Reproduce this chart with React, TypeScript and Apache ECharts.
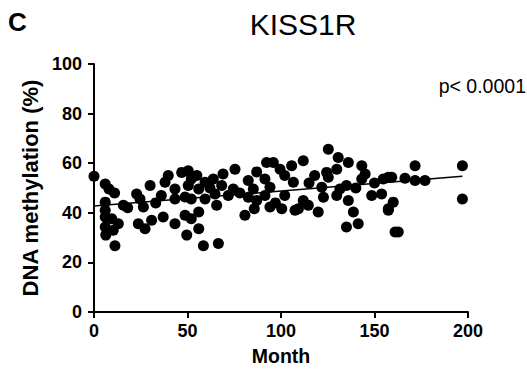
import React, { useEffect, useRef } from "react";
import * as echarts from "echarts";

const months: number[] = [
  0, 6, 8, 11, 6, 15.7, 6, 6, 9.5, 13, 6, 6.3, 11.2, 10.3,
  22.8, 24.6, 30, 26.4, 23.7, 27.3, 30.8, 37, 39.7, 38, 43.3, 46.9, 50.4, 43.3, 48.7, 43.3, 48.7, 49.6, 52, 52,
  55, 50.4, 56, 59.4, 63.8, 69, 75.4, 68.3, 74.5, 64.7, 71.8, 52, 59.4, 65.6, 56, 56, 58.5, 66.5,
  87, 92.3, 95.9, 82.5, 85.2, 91.4, 94.1, 99.5, 102, 105.7, 106.6, 82.5, 87, 91.4, 85.7, 80.7, 94.1, 100.4, 102, 107.5,
  125.3, 111.9, 130.6, 136, 143.2, 124.4, 129.8, 145, 125.3, 143.2, 154.7, 159.2, 121.8, 131.5, 135, 129.8, 148.5, 153.8,
  122.7, 136, 111.9, 114.6, 109.3, 119.9, 138.7, 157.4, 135, 141.3, 161,
  171.7, 197, 157.4, 166.3, 171.7, 177, 197, 160, 157.4, 162.7,
  18, 33, 36, 62, 78, 97, 115, 118, 140, 150
];
const methylation: number[] = [
  54.7, 51.6, 49.6, 48, 44.3, 43, 41, 38.3, 37.6, 35.6, 34.3, 31, 26.7, 33,
  47.6, 45.6, 51, 42.3, 35.6, 33.6, 37, 38.3, 55, 52.3, 49.6, 56.3, 57, 45.6, 46.4, 35.6, 39, 31, 53.6, 37.6,
  55, 51, 49.6, 52.3, 53.6, 55.6, 57.6, 51, 49.6, 47.6, 47, 45.6, 45.6, 43, 40.3, 33.6, 26.7, 27.6,
  56.5, 60.3, 60.3, 53, 49.6, 53.6, 50.3, 57.6, 55, 59, 52.3, 46.3, 45, 47, 41.6, 39, 42.3, 41.6, 47, 41,
  65.6, 61, 62.3, 60.3, 59, 56.3, 57.6, 55.6, 54.3, 53.6, 53.6, 54.3, 50.3, 49.6, 51, 47, 47, 47.6,
  46.3, 45, 45, 43, 41.6, 40.3, 40.3, 41.6, 34.3, 35.6, 32.3,
  59, 59, 54.3, 53.9, 53, 53, 45.6, 44.3, 41, 32.3,
  42, 44, 47, 50, 48, 44, 52, 55, 50, 52
];
const trendStart: [number, number] = [0, 42.7];
const trendEnd: [number, number] = [197, 54.7];
const xTicks = [0, 50, 100, 150, 200];
const yTicks = [0, 20, 40, 60, 80, 100];

const FONT = "Liberation Sans, Arial, sans-serif";

export default function App() {
  const ref = useRef<HTMLDivElement>(null);
  useEffect(() => {
    if (!ref.current) return;
    const chart = echarts.init(ref.current, undefined, { renderer: "svg" });
    const pts = months.map((m, i) => [m, methylation[i]]);
    chart.setOption({
      animation: false,
      backgroundColor: "#fff",
      title: [
        { text: "KISS1R", left: 298, top: 4, textAlign: "center",
          textStyle: { fontFamily: FONT, fontSize: 30, fontWeight: "normal", color: "#000" } },
        { text: "C", left: 3, top: 4,
          textStyle: { fontFamily: FONT, fontSize: 26, fontWeight: "bold", color: "#000" } },
        { text: "p< 0.0001", right: 1, top: 76, padding: 0,
          textStyle: { fontFamily: FONT, fontSize: 19.5, fontWeight: "normal", color: "#000" } },
      ],
      grid: { left: 94, right: 59, top: 64, bottom: 57 },
      xAxis: {
        type: "value", min: xTicks[0], max: xTicks[xTicks.length - 1], interval: 50,
        name: "Month", nameLocation: "middle", nameGap: 34,
        nameTextStyle: { fontFamily: FONT, fontSize: 19.5, fontWeight: "bold", color: "#000" },
        axisLine: { show: true, lineStyle: { color: "#000", width: 2 } },
        axisTick: { show: true, length: 6, lineStyle: { color: "#000", width: 2 } },
        axisLabel: { fontFamily: FONT, fontSize: 18, fontWeight: "bold", color: "#000", margin: 10 },
        splitLine: { show: false },
      },
      yAxis: {
        type: "value", min: yTicks[0], max: yTicks[yTicks.length - 1], interval: 20,
        name: "DNA methylation (%)", nameLocation: "middle", nameGap: 34,
        nameTextStyle: { fontFamily: FONT, fontSize: 22, fontWeight: "bold", color: "#000" },
        axisLine: { show: true, lineStyle: { color: "#000", width: 2 } },
        axisTick: { show: true, length: 6, lineStyle: { color: "#000", width: 2 } },
        axisLabel: { fontFamily: FONT, fontSize: 18, fontWeight: "bold", color: "#000", margin: 12 },
        splitLine: { show: false },
      },
      series: [
        { type: "scatter", data: pts, symbolSize: 11, itemStyle: { color: "#000", opacity: 1 } },
        { type: "line", data: [trendStart, trendEnd], symbol: "none",
          lineStyle: { color: "#000", width: 1.5 }, z: 3 },
      ],
    });
    return () => chart.dispose();
  }, []);
  return <div ref={ref} style={{ width: 527, height: 371, position: "absolute", left: 0, top: 0 }} />;
}
